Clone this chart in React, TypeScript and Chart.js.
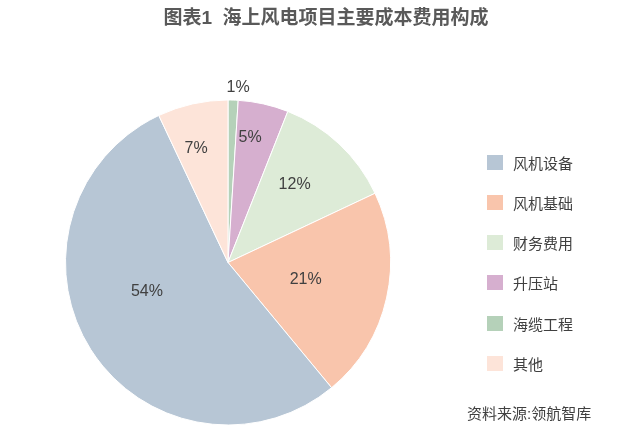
import { Chart, registerables } from "chart.js";
import { useEffect, useRef } from "react";

Chart.register(...registerables);

// slices in drawing order, clockwise from 12 o'clock
const categories = ["海缆工程", "升压站", "财务费用", "风机基础", "风机设备", "其他"];
const shares = [1, 5, 12, 21, 54, 7];
const legendOrder = ["风机设备", "风机基础", "财务费用", "升压站", "海缆工程", "其他"];

const palette: Record<string, string> = {
    风机设备: "#B7C6D5",
    风机基础: "#F9C5AC",
    财务费用: "#DDEBD7",
    升压站: "#D6AFCF",
    海缆工程: "#B5D1B9",
    其他: "#FDE4D9",
};

// where each percentage label sits inside its slice (share of sweep, share of radius)
const labelAngle = [0.92, 0.36, 0.44, 0.5, 0.565, 0.38];
const labelRadius = [1.08, 0.78, 0.63, 0.49, 0.53, 0.73];

const cjk = '"Liberation Sans", "Noto Sans CJK SC", sans-serif';

const pieLabels = {
    id: "pieLabels",
    afterDatasetsDraw(chart: any) {
        const ctx = chart.ctx;
        const meta = chart.getDatasetMeta(0);
        ctx.save();
        ctx.font = `16px ${cjk}`;
        ctx.fillStyle = "#404040";
        ctx.textAlign = "center";
        ctx.textBaseline = "middle";
        meta.data.forEach((arc: any, i: number) => {
            const { x, y, startAngle, endAngle, outerRadius } = arc.getProps(
                ["x", "y", "startAngle", "endAngle", "outerRadius"],
                true
            );
            const a = startAngle + (endAngle - startAngle) * labelAngle[i];
            const r = outerRadius * labelRadius[i];
            ctx.fillText(`${shares[i]}%`, x + Math.cos(a) * r, y + Math.sin(a) * r);
        });
        ctx.restore();
    },
};

export default function App() {
    const chartRef: any = useRef(null);

    useEffect(() => {
        document.body.style.margin = "0";
        if (!chartRef?.current) return;
        const chart = new Chart(chartRef.current.getContext("2d"), {
            type: "pie",
            data: {
                labels: categories,
                datasets: [
                    {
                        data: shares,
                        backgroundColor: categories.map((c) => palette[c]),
                        borderColor: "#ffffff",
                        borderWidth: 1,
                    },
                ],
            },
            options: {
                animation: false,
                responsive: true,
                maintainAspectRatio: false,
                layout: {
                    padding: { top: 99, bottom: 5, left: 65, right: 253 },
                },
                plugins: {
                    legend: { display: false },
                    title: { display: false },
                    tooltip: { enabled: false },
                },
            },
            plugins: [pieLabels],
        });
        return () => {
            chart.destroy();
        };
    }, []);

    return (
        <div style={{ position: "relative", width: 644, height: 431, background: "#fff", fontFamily: cjk }}>
            <canvas ref={chartRef} />
            <div
                style={{
                    position: "absolute",
                    top: 8,
                    left: 326,
                    transform: "translateX(-50%)",
                    whiteSpace: "pre",
                    fontSize: 19,
                    lineHeight: "20px",
                    fontWeight: "bold",
                    color: "#595959",
                }}
            >
                {"图表1  海上风电项目主要成本费用构成"}
            </div>
            {legendOrder.map((name, i) => (
                <div
                    key={name}
                    style={{
                        position: "absolute",
                        left: 487,
                        top: 152 + i * 40.3,
                        height: 20,
                        display: "flex",
                        alignItems: "center",
                        fontSize: 15,
                        color: "#404040",
                    }}
                >
                    <span style={{ width: 16, height: 15, background: palette[name], marginRight: 10 }} />
                    {name}
                </div>
            ))}
            <div
                style={{
                    position: "absolute",
                    left: 467,
                    top: 404,
                    fontSize: 15,
                    lineHeight: "20px",
                    color: "#404040",
                    whiteSpace: "pre",
                }}
            >
                资料来源:领航智库
            </div>
        </div>
    );
}
